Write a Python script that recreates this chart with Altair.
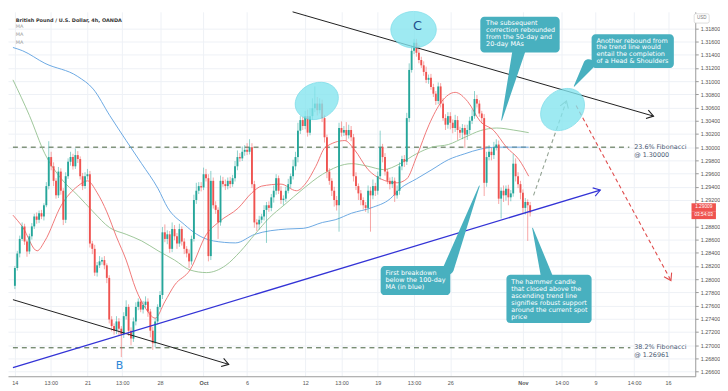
import json
import altair as alt
import pandas as pd

GREEN = "#26a69a"
RED = "#ef5350"
BOX = "#48b0bf"

X_DOMAIN = [-0.8, 279.2]
Y_DOMAIN = [1.2653, 1.3205]

# ---- candle data (4h candles, index 0 = Sep 14 00:00) ----
first_open = 1.2790
closes = [
    1.2817, 1.2839, 1.2861, 1.2880, 1.2857, 1.2842, 1.2865, 1.2880, 1.2895, 1.2890,
    1.2900, 1.2895, 1.2912, 1.2941, 1.2985, 1.2971, 1.2949, 1.2927, 1.2963, 1.2934,
    1.2890, 1.2956, 1.2978, 1.2985, 1.2971, 1.2988, 1.2982, 1.2956, 1.2941, 1.2956,
    1.2959, 1.2854, 1.2846, 1.2810, 1.2821, 1.2827, 1.2829, 1.2821, 1.2802, 1.2739,
    1.2729, 1.2722, 1.2736, 1.2725, 1.2717, 1.2744, 1.2758, 1.2722, 1.2710, 1.2736,
    1.2758, 1.2766, 1.2754, 1.2761, 1.2766, 1.2751, 1.2722, 1.2703, 1.2736, 1.2758,
    1.2776, 1.2871, 1.2861, 1.2868, 1.2846, 1.2876, 1.2865, 1.2854, 1.2876, 1.2857,
    1.2846, 1.2839, 1.2827, 1.2861, 1.2920, 1.2934, 1.2941, 1.2939, 1.2959, 1.2953,
    1.2835, 1.2949, 1.2912, 1.2905, 1.2886, 1.2949, 1.2944, 1.2941, 1.2949, 1.2944,
    1.2953, 1.2971, 1.2985, 1.2983, 1.2993, 1.2996, 1.2993, 1.3000, 1.2944, 1.2886,
    1.2883, 1.2890, 1.2895, 1.2905, 1.2912, 1.2908, 1.2924, 1.2934, 1.2953, 1.2934,
    1.2920, 1.2922, 1.2934, 1.2944, 1.2956, 1.2971, 1.2985, 1.3025, 1.3041, 1.3032,
    1.3047, 1.3022, 1.3047, 1.3059, 1.3066, 1.3056, 1.3066, 1.3044, 1.3015, 1.2963,
    1.2949, 1.2934, 1.2920, 1.2912, 1.3029, 1.3022, 1.3026, 1.3018, 1.3026, 1.3015,
    1.2956, 1.2941, 1.2930, 1.2920, 1.2912, 1.2908, 1.2934, 1.2927, 1.2941, 1.2934,
    1.2956, 1.3000, 1.2985, 1.2963, 1.2949, 1.2944, 1.2949, 1.2927, 1.2934, 1.2971,
    1.2982, 1.2978, 1.3044, 1.3117, 1.3146, 1.3158, 1.3143, 1.3132, 1.3124, 1.3114,
    1.3102, 1.3105, 1.3091, 1.3081, 1.3070, 1.3092, 1.3066, 1.3044, 1.3034, 1.3047,
    1.3037, 1.3029, 1.3041, 1.3026, 1.3022, 1.3029, 1.3019, 1.3026, 1.3040, 1.3047,
    1.3073, 1.3066, 1.3051, 1.3044, 1.2946, 1.2985, 1.2993, 1.2988, 1.3000, 1.3004,
    1.2922, 1.2934, 1.2927, 1.2937, 1.2924, 1.2930, 1.2975, 1.2956, 1.2944, 1.2931,
    1.2908, 1.2917, 1.2912, 1.2901,
]
upper_wick_pips = [
    3, 4, 5, 6, 4, 3, 4, 5, 4, 6,
    4, 5, 3, 6, 24, 8, 6, 4, 7, 5,
    4, 6, 5, 8, 5, 10, 6, 4, 5, 6,
    8, 5, 4, 6, 5, 8, 4, 6, 3, 4,
    5, 4, 8, 5, 4, 6, 10, 4, 5, 6,
    7, 5, 4, 6, 8, 5, 4, 6, 5, 4,
    6, 8, 12, 6, 5, 10, 6, 5, 8, 4,
    5, 4, 6, 5, 8, 12, 6, 6, 10, 8,
    6, 15, 5, 6, 4, 8, 6, 7, 5, 6,
    5, 8, 10, 6, 8, 7, 10, 12, 6, 5,
    5, 6, 4, 7, 5, 6, 5, 8, 6, 4,
    7, 5, 6, 8, 4, 10, 8, 12, 6, 5,
    8, 10, 12, 15, 26, 10, 8, 6, 5, 4,
    5, 4, 6, 6, 8, 10, 6, 12, 8, 6,
    5, 6, 4, 5, 4, 5, 8, 6, 10, 5,
    7, 25, 5, 6, 4, 5, 6, 5, 8, 6,
    5, 6, 8, 10, 8, 6, 6, 12, 5, 6,
    8, 5, 6, 5, 4, 6, 5, 8, 6, 6,
    6, 5, 8, 6, 5, 6, 5, 8, 6, 10,
    12, 6, 5, 4, 6, 8, 10, 6, 8, 8,
    6, 5, 8, 5, 6, 5, 15, 8, 6, 5,
    5, 6, 4, 5,
]
lower_wick_pips = [
    5, 4, 6, 3, 5, 8, 4, 5, 4, 6,
    5, 4, 6, 3, 5, 6, 8, 5, 4, 6,
    8, 5, 4, 6, 5, 4, 6, 5, 6, 4,
    5, 6, 8, 5, 6, 4, 5, 6, 8, 6,
    8, 6, 5, 10, 35, 6, 5, 8, 10, 5,
    6, 5, 4, 6, 5, 8, 10, 10, 6, 5,
    4, 6, 5, 8, 6, 5, 6, 8, 5, 6,
    8, 6, 10, 5, 4, 6, 5, 6, 4, 5,
    8, 6, 5, 6, 25, 5, 4, 6, 5, 6,
    4, 5, 6, 5, 4, 6, 5, 4, 6, 8,
    10, 8, 5, 6, 50, 6, 5, 8, 6, 5,
    6, 8, 5, 4, 6, 5, 6, 8, 5, 6,
    5, 6, 4, 5, 6, 8, 5, 6, 8, 10,
    6, 8, 10, 8, 40, 6, 5, 8, 5, 6,
    8, 6, 10, 8, 6, 6, 8, 55, 6, 8,
    6, 5, 8, 6, 5, 8, 6, 10, 5, 6,
    6, 8, 5, 6, 4, 5, 6, 5, 4, 6,
    5, 6, 4, 5, 6, 5, 6, 4, 8, 6,
    10, 8, 6, 15, 8, 10, 20, 8, 6, 5,
    4, 6, 5, 8, 20, 6, 5, 8, 6, 5,
    8, 30, 10, 8, 12, 6, 5, 8, 6, 10,
    8, 10, 54, 6,
]

# ---- moving averages (candle index, price) ----
ma100_i = [-0.8, 3.2, 12.4, 26, 32.4, 39.2, 46, 52.4, 59.2, 63.2, 70, 75.2, 82, 91.2, 99.2,
           112.4, 119.2, 127.2, 132.4, 139.2, 147.2, 155.2, 159.2, 166, 172.4, 179.2, 186,
           192.4, 199.2, 212.4]
ma100_p = [1.3151, 1.3146, 1.3127, 1.3107, 1.3088, 1.3048, 1.3010, 1.2975, 1.2937, 1.2908,
           1.2883, 1.2868, 1.2858, 1.2855, 1.2868, 1.2876, 1.2877, 1.2886, 1.2890, 1.2900,
           1.2908, 1.2922, 1.2937, 1.2952, 1.2966, 1.2981, 1.2990, 1.2997, 1.3000, 1.3000]
ma50_i = [-0.8, 6, 12.4, 19.2, 26, 32.4, 39.2, 46, 52.4, 59.2, 66, 72.4, 79.2, 87.2, 93.2,
          99.2, 105.2, 111.2, 119.2, 127.2, 139.2, 146, 152.4, 159.2, 166, 172.4, 179.2,
          186, 192.4, 199.2, 206, 212.4]
ma50_p = [1.3102, 1.3048, 1.2990, 1.2952, 1.2927, 1.2902, 1.2878, 1.2868, 1.2858, 1.2843,
          1.2829, 1.2814, 1.2810, 1.2821, 1.2842, 1.2868, 1.2893, 1.2912, 1.2937, 1.2959,
          1.2975, 1.2971, 1.2966, 1.2975, 1.2990, 1.3000, 1.3004, 1.3015, 1.3025, 1.3029,
          1.3026, 1.3022]
ma20_i = [-0.8, 3.2, 9.2, 12.4, 19.2, 26, 30, 34, 38, 42, 46, 50, 54, 58, 62, 66, 72.4,
          79.2, 84.4, 92.4, 98, 102, 110, 116.4, 120.4, 124.4, 128.4, 136.4, 140.4, 146,
          151.2, 158, 162, 166, 171.2, 176.4, 182, 187.2, 192.4, 198, 203.2, 208.4, 212.4]
ma20_p = [1.2897, 1.2879, 1.2843, 1.2858, 1.2912, 1.2941, 1.2949, 1.2931, 1.2902, 1.2864,
          1.2829, 1.2785, 1.2756, 1.2741, 1.2766, 1.2791, 1.2814, 1.2868, 1.2887, 1.2908,
          1.2931, 1.2941, 1.2944, 1.2934, 1.2946, 1.2971, 1.3000, 1.3010, 1.2996, 1.2966,
          1.2952, 1.2946, 1.2952, 1.2985, 1.3034, 1.3069, 1.3083, 1.3069, 1.3039, 1.3025,
          1.3000, 1.2981, 1.2956]

# ---- drawn lines ----
trend_names = ["upper", "lower", "rising"]
trend_i = [[114.8, 264], [-0.8, 88.4], [-0.8, 242]]
trend_p = [[1.3205, 1.3047], [1.2769, 1.2671], [1.2666, 1.2935]]
trend_col = ["#1e1e1e", "#1e1e1e", "#3333d6"]
trend_w = [1.0, 1.0, 1.3]
proj_names = ["rebound", "drop"]
proj_i = [[214.4, 228], [232, 271.2]]
proj_p = [[1.2927, 1.3070], [1.3063, 1.2798]]
proj_col = ["#93a393", "#e04c4c"]
arrow_i = [264, 88.4, 242, 228, 271.2]
arrow_p = [1.3047, 1.2671, 1.2935, 1.3070, 1.2798]
arrow_ang = [16, 17, 343, 289, 62]
arrow_col = ["#1e1e1e", "#1e1e1e", "#3333d6", "#93a393", "#e04c4c"]

fib_levels = [1.30000, 1.26961]
fib_end = [254, 254.4]
fib_text = ["23.6% Fibonacci\n@ 1.30000", "38.2% Fibonacci\n@ 1.26961"]
fib_text_p = [1.3000, 1.2697]

ell_i = [124.8, 164.8, 226.4]
ell_p = [1.3070, 1.3178, 1.3057]
ell_w = [45, 46, 48]
ell_ang = [335, 0, 320]

box_x1 = [192.4, 238.4, 151.2, 203.2]
box_x2 = [225.2, 272.4, 180.0, 238.4]
box_y1 = [1.31976, 1.31712, 1.28199, 1.28067]
box_y2 = [1.31434, 1.31200, 1.27759, 1.27335]
box_tx = [194.8, 240.4, 153.2, 205.2]
box_ty = [1.31925, 1.31660, 1.28135, 1.28000]
box_text = [
    "The subsequent\ncorrection rebounded\nfrom the 50-day and\n20-day MAs",
    "Another rebound from\nthe trend line would\nentail the completion\nof a Head & Shoulders",
    "First breakdown\nbelow the 100-day\nMA (in blue)",
    "The hammer candle\nthat closed above the\nascending trend line\nsignifies robust support\naround the current spot\nprice",
]
ptr_base_i = [208.4, 237.2, 179.2, 220.0]
ptr_base_p = [1.3147, 1.3125, 1.28155, 1.28023]
ptr_tip_i = [201.2, 231.2, 192.0, 214.0]
ptr_tip_p = [1.30409, 1.30922, 1.29414, 1.28775]
ptr_w = [13, 11, 11, 12]

x_ticks = [0, 14.8, 30, 44.4, 60, 78, 96, 120, 135, 150, 165, 180, 210, 226, 240, 256, 270]
x_labels = ["14", "13:00", "21", "13:00", "28", "Oct", "6", "12", "13:00", "19", "13:00",
            "26", "Nov", "14:00", "9", "14:00", "16"]
y_ticks = [round(1.266 + 0.002 * k, 3) for k in range(27)]

# ---------------------------------------------------------------
opens = [first_open] + closes[:-1]
rows = []
for k, (o, c) in enumerate(zip(opens, closes)):
    rows.append({
        "i": k, "open": o, "close": c,
        "high": max(o, c) + upper_wick_pips[k] / 10000.0,
        "low": min(o, c) - lower_wick_pips[k] / 10000.0,
    })
candles = pd.DataFrame(rows)

label_expr = f"{json.dumps(x_labels)}[indexof({json.dumps(x_ticks)}, datum.value)]"
x_axis = alt.Axis(
    values=x_ticks, labelExpr=label_expr, grid=True, gridColor="#eef1f6", ticks=False,
    domainColor="#9a9a9a", labelFontSize=5.5, labelColor="#555555", labelFont="Liberation Sans",
    labelPadding=4, title=None, labelOverlap=False,
    labelFontWeight={"condition": {"test": "datum.value == 78 || datum.value == 210", "value": "bold"},
                     "value": "normal"},
)
y_axis = alt.Axis(
    orient="right", values=y_ticks, grid=True, gridColor="#eef1f6",
    labelExpr="abs(datum.value - 1.29) < 0.0005 ? '' : format(datum.value, '.5f')",
    tickSize=3, tickColor="#9a9a9a", domainColor="#9a9a9a", labelFontSize=5.5,
    labelColor="#555555", labelFont="Liberation Sans", labelPadding=2, title=None,
    labelOverlap=False,
)
xs = alt.Scale(domain=X_DOMAIN, nice=False, zero=False)
ys = alt.Scale(domain=Y_DOMAIN, nice=False, zero=False)


def X(f):
    return alt.X(f, type="quantitative", scale=xs, axis=x_axis)


def Y(f):
    return alt.Y(f, type="quantitative", scale=ys, axis=y_axis)


# fib lines
fib_df = pd.DataFrame({"x1": [-0.8, -0.8], "x2": fib_end, "p": fib_levels})
fib_lines = alt.Chart(fib_df).mark_rule(color="#44603c", strokeDash=[5, 4], strokeWidth=1).encode(
    x=X("x1"), x2="x2", y=Y("p"))
fib_lab_df = pd.DataFrame({"x": [256, 256], "p": fib_text_p, "t": fib_text})
fib_labels = alt.Chart(fib_lab_df).mark_text(
    align="left", baseline="middle", lineBreak="\n", lineHeight=7.5, font="DejaVu Sans",
    fontSize=6.5, color="#4a5a74").encode(x=X("x"), y=Y("p"), text="t:N")

# moving averages
ma_rows = []
for name, col, ii, pp in [("ma100", "#5c9fe0", ma100_i, ma100_p),
                          ("ma50", "#93c08f", ma50_i, ma50_p),
                          ("ma20", "#ee6a6a", ma20_i, ma20_p)]:
    for a, b in zip(ii, pp):
        ma_rows.append({"ma": name, "col": col, "i": a, "p": b})
ma_df = pd.DataFrame(ma_rows)
ma_lines = alt.Chart(ma_df).mark_line(strokeWidth=0.9, interpolate="monotone").encode(
    x=X("i"), y=Y("p"), color=alt.Color("col:N", scale=None), detail="ma:N")

color_cond = alt.condition("datum.close >= datum.open", alt.value(GREEN), alt.value(RED))
wicks = alt.Chart(candles).mark_rule(strokeWidth=0.8, opacity=0.65).encode(
    x=X("i"), y=Y("low"), y2="high", color=color_cond)
bodies = alt.Chart(candles).mark_bar(size=1.9, orient="vertical").encode(
    x=X("i"), y=Y("open"), y2="close", color=color_cond)

# trend lines
tr_rows = []
for n, ii, pp, c, w in zip(trend_names, trend_i, trend_p, trend_col, trend_w):
    for k, (a, b) in enumerate(zip(ii, pp)):
        tr_rows.append({"id": n, "i": a, "p": b, "col": c, "w": w, "o": k})
tr_df = pd.DataFrame(tr_rows)
trend_lines = alt.Chart(tr_df).mark_line().encode(
    x=X("i"), y=Y("p"), color=alt.Color("col:N", scale=None),
    strokeWidth=alt.StrokeWidth("w:Q", scale=None), detail="id:N", order="o:Q")

pr_rows = []
for n, ii, pp, c in zip(proj_names, proj_i, proj_p, proj_col):
    for k, (a, b) in enumerate(zip(ii, pp)):
        pr_rows.append({"id": n, "i": a, "p": b, "col": c, "o": k})
pr_df = pd.DataFrame(pr_rows)
proj_lines = alt.Chart(pr_df).mark_line(strokeDash=[4, 3], strokeWidth=1.1).encode(
    x=X("i"), y=Y("p"), color=alt.Color("col:N", scale=None), detail="id:N", order="o:Q")

CHEVRON = "M-1,-0.65L0,0L-1,0.65"
ar_df = pd.DataFrame({"i": arrow_i, "p": arrow_p, "ang": arrow_ang, "col": arrow_col})
arrows = alt.Chart(ar_df).mark_point(shape=CHEVRON, filled=False, strokeWidth=1.1, size=180,
                                     opacity=1).encode(
    x=X("i"), y=Y("p"), angle=alt.Angle("ang:Q", scale=None), color=alt.Color("col:N", scale=None))

k = 0.8
c = 0.5523
ELLIPSE = (f"M-1,0C-1,{-c*k:.4f} {-c:.4f},{-k} 0,{-k}C{c:.4f},{-k} 1,{-c*k:.4f} 1,0"
           f"C1,{c*k:.4f} {c:.4f},{k} 0,{k}C{-c:.4f},{k} -1,{c*k:.4f} -1,0Z")
el_df = pd.DataFrame({"i": ell_i, "p": ell_p, "s": [w * w for w in ell_w], "ang": ell_ang})
ellipses = alt.Chart(el_df).mark_point(shape=ELLIPSE, filled=True, fill="#84e5ef",
                                       stroke="#5ad3e3", strokeWidth=0.7, opacity=0.78).encode(
    x=X("i"), y=Y("p"), size=alt.Size("s:Q", scale=None), angle=alt.Angle("ang:Q", scale=None))

# callout boxes
bx_df = pd.DataFrame({"x1": box_x1, "x2": box_x2, "y1": box_y1, "y2": box_y2,
                      "tx": box_tx, "ty": box_ty, "t": box_text})
boxes = alt.Chart(bx_df).mark_rect(cornerRadius=4, color=BOX).encode(
    x=X("x1"), x2="x2", y=Y("y1"), y2="y2")
ptr_rows = []
for n in range(len(ptr_w)):
    ptr_rows.append({"id": n, "o": 0, "i": ptr_base_i[n], "p": ptr_base_p[n], "w": ptr_w[n]})
    ptr_rows.append({"id": n, "o": 1, "i": ptr_tip_i[n], "p": ptr_tip_p[n], "w": 0.8})
ptr_df = pd.DataFrame(ptr_rows)
pointers = alt.Chart(ptr_df).mark_trail(color=BOX).encode(
    x=X("i"), y=Y("p"), size=alt.Size("w:Q", scale=None), detail="id:N", order="o:Q")
box_texts = alt.Chart(bx_df).mark_text(
    align="left", baseline="top", lineBreak="\n", lineHeight=7.0, font="DejaVu Sans",
    fontSize=6.5, color="white").encode(x=X("tx"), y=Y("ty"), text="t:N")

# header texts
title_df = pd.DataFrame({"i": [0.4], "p": [1.3193], "t": ["British Pound / U.S. Dollar, 4h, OANDA"]})
title_text = alt.Chart(title_df).mark_text(align="left", baseline="middle", font="DejaVu Sans",
                                           fontSize=5, fontWeight="bold", color="#333333").encode(
    x=X("i"), y=Y("p"), text="t:N")
ma_lab_df = pd.DataFrame({"i": [0.4, 0.4, 0.4], "p": [1.3183, 1.3172, 1.3160], "t": ["MA", "MA", "MA"]})
ma_labels = alt.Chart(ma_lab_df).mark_text(align="left", baseline="middle", font="DejaVu Sans",
                                           fontSize=5, color="#9a9a9a").encode(
    x=X("i"), y=Y("p"), text="t:N")

wave_df = pd.DataFrame({"i": [43.2, 166.4], "p": [1.2668, 1.3184], "t": ["B", "C"],
                        "col": ["#2d87d8", "#1f4f8c"], "fs": [11, 13]})
wave_labels = alt.Chart(wave_df).mark_text(baseline="middle", font="DejaVu Sans").encode(
    x=X("i"), y=Y("p"), text="t:N", color=alt.Color("col:N", scale=None),
    size=alt.Size("fs:Q", scale=None))

# price tag on the axis
tag_df = pd.DataFrame({"x1": [279.7, 279.7], "x2": [289.8, 289.8],
                       "y1": [1.29150, 1.29030], "y2": [1.29030, 1.28910],
                       "tx": [284.75, 284.75], "ty": [1.29090, 1.28970],
                       "t": ["1.29009", "03:54:03"]})
tag_rects = alt.Chart(tag_df).mark_rect(color="#ef5350").encode(
    x=X("x1"), x2="x2", y=Y("y1"), y2="y2")
tag_texts = alt.Chart(tag_df).mark_text(font="Liberation Sans", fontSize=4.8, color="white",
                                        baseline="middle").encode(
    x=X("tx"), y=Y("ty"), text="t:N")
usd_df = pd.DataFrame({"x1": [280.8], "x2": [287.0], "y1": [1.3202], "y2": [1.3188],
                       "tx": [283.9], "ty": [1.3195], "t": ["USD"]})
usd_rect = alt.Chart(usd_df).mark_rect(fill="white", stroke="#c8c8c8", strokeWidth=0.6,
                                       cornerRadius=1.5).encode(
    x=X("x1"), x2="x2", y=Y("y1"), y2="y2")
usd_text = alt.Chart(usd_df).mark_text(font="Liberation Sans", fontSize=4.5, color="#777777",
                                       baseline="middle").encode(
    x=X("tx"), y=Y("ty"), text="t:N")

chart = alt.layer(
    fib_lines, ma_lines, wicks, bodies, trend_lines, proj_lines, arrows, ellipses,
    pointers, boxes, box_texts, fib_labels, title_text, ma_labels, wave_labels,
    tag_rects, tag_texts, usd_rect, usd_text,
).properties(width=694, height=368, padding=0, background="white").configure_view(stroke=None)

chart.save("out.html", embed_options={"renderer": "svg", "actions": False})
